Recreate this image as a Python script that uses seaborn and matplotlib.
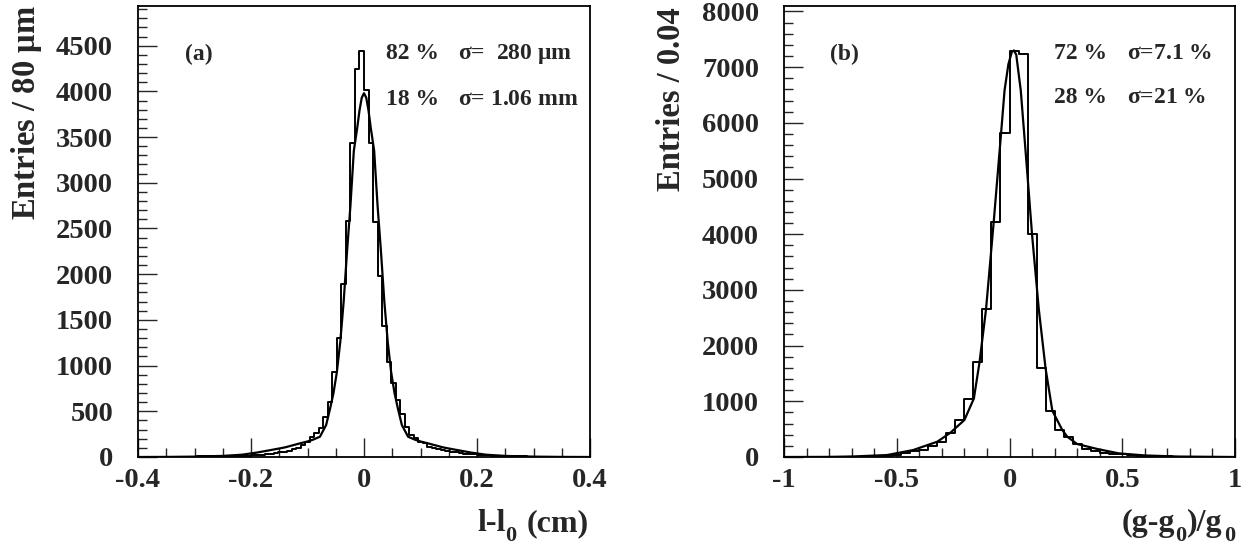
import numpy as np
import matplotlib
matplotlib.use('Agg')
import matplotlib.pyplot as plt
from matplotlib.ticker import MultipleLocator, FuncFormatter
import seaborn as sns

# panel (a): l-l0 histogram, 100 bins of 0.008 cm
counts_a = [0, 0, 0, 0, 0, 2, 2, 3, 3, 4, 4, 5, 5, 6, 6, 7, 8, 9, 9, 10, 10, 12, 12, 14, 15,
            18, 20, 22, 28, 34, 40, 50, 58, 70, 85, 100, 130, 160,
            222, 262, 317, 441, 604, 930, 1304, 1890, 2580, 3430, 4240, 4440,
            4020, 3435, 2570, 1978, 1432, 1035, 812, 623, 470, 331, 240, 207, 167, 153, 110,
            100, 90, 77, 65, 55, 50, 40, 35, 30, 28,
            25, 22, 18, 16, 14, 12, 10, 9, 8, 7, 6, 5, 5, 4, 4, 3, 3, 2, 2, 2, 1, 1, 0, 0, 0]
fit_x_a = [-0.4, -0.35, -0.3, -0.25, -0.216, -0.19, -0.164, -0.14, -0.111, -0.1, -0.09, -0.078,
           -0.067, -0.06, -0.054, -0.048, -0.042, -0.036, -0.03, -0.024, -0.018, -0.012, -0.008, -0.004, 0,
           0.004, 0.008, 0.012, 0.018, 0.024, 0.03, 0.036, 0.042, 0.048, 0.054, 0.06, 0.067,
           0.078, 0.09, 0.1, 0.111, 0.14, 0.164, 0.19, 0.216, 0.25, 0.3, 0.35, 0.4]
fit_y_a = [0, 1, 4, 12, 25, 48, 77, 105, 153, 170, 190, 222,
           350, 530, 700, 930, 1260, 1700, 2250, 2750, 3350, 3600, 3790, 3930, 3980,
           3930, 3790, 3600, 3350, 2750, 2250, 1700, 1260, 930, 700, 530, 350,
           222, 190, 170, 153, 105, 77, 48, 25, 12, 4, 1, 0]

# panel (b): (g-g0)/g0 histogram, 50 bins of 0.04
counts_b = [0, 0, 0, 0, 1, 1, 2, 3, 5, 8, 15, 20,
            35, 63, 105, 125, 197, 275, 436, 664, 1050, 1700, 2655, 4220, 5820,
            7290, 7240, 3995, 1590, 830, 485, 365, 233, 143, 113, 80, 60, 45, 32, 25,
            18, 12, 9, 6, 4, 3, 2, 1, 0, 0]
fit_x_b = [-1, -0.8, -0.69, -0.543, -0.427, -0.32, -0.262, -0.2, -0.158, -0.133, -0.104, -0.07,
           -0.037, -0.022, -0.005, 0.01, 0.02, 0.03, 0.05, 0.075, 0.1, 0.13, 0.16, 0.19,
           0.234, 0.256, 0.3, 0.39, 0.485, 0.6, 0.75, 1]
fit_y_b = [0, 2, 10, 35, 125, 275, 436, 664, 1050, 1700, 2655, 4220,
           5830, 6580, 7050, 7270, 7300, 7220, 6580, 5300, 3995, 2650, 1590, 830,
           485, 365, 233, 143, 65, 28, 8, 0]

sns.set_style('white')
plt.rcParams['font.family'] = ['Liberation Serif']
plt.rcParams['font.weight'] = 'bold'
plt.rcParams['mathtext.fontset'] = 'custom'
plt.rcParams['mathtext.rm'] = 'Liberation Serif'
plt.rcParams['mathtext.bf'] = 'Liberation Serif:bold'


def tick_fmt(v, pos):
    return '%g' % round(v, 3)


def draw_panel(ax, counts, lo, hi, fit_x, fit_y, top, xmaj, xmin, ymaj, ymin):
    edges = np.linspace(lo, hi, len(counts) + 1)
    centers = (edges[:-1] + edges[1:]) / 2
    sns.histplot(x=centers, weights=counts, bins=len(counts), binrange=(lo, hi), element='step',
                 fill=False, color='black', linewidth=1.4, ax=ax)
    sns.lineplot(x=fit_x, y=fit_y, color='black', linewidth=1.6, ax=ax)
    ax.set_xlim(lo, hi)
    ax.set_ylim(0, top)
    ax.xaxis.set_major_locator(MultipleLocator(xmaj))
    ax.xaxis.set_minor_locator(MultipleLocator(xmin))
    ax.yaxis.set_major_locator(MultipleLocator(ymaj))
    ax.yaxis.set_minor_locator(MultipleLocator(ymin))
    ax.xaxis.set_major_formatter(FuncFormatter(tick_fmt))
    ax.tick_params(axis='x', which='major', direction='in', length=13.7, width=1.0,
                   labelsize=20.5, pad=8, bottom=True)
    ax.tick_params(axis='y', which='major', direction='in', length=13.7, width=1.0,
                   labelsize=20.5, pad=18, left=True)
    ax.tick_params(axis='both', which='minor', direction='in', length=6.7, width=1.0,
                   bottom=True, left=True)
    ax.set_xlabel('')
    ax.set_ylabel('')
    for s in ax.spines.values():
        s.set_linewidth(1.3)
        s.set_color('black')


def put(px, py, s, size, **kw):
    # place text by pixel position in the 1248x544 figure
    fig.text(px / 1248, 1 - py / 544, s, fontsize=size, va='baseline', **kw)


fig = plt.figure(figsize=(12.48, 5.44), dpi=100)
ax1 = fig.add_axes([138 / 1248, 1 - 457 / 544, 452 / 1248, 451 / 544])
ax2 = fig.add_axes([784 / 1248, 1 - 457 / 544, 451 / 1248, 451 / 544])

draw_panel(ax1, counts_a, -0.4, 0.4, fit_x_a, fit_y_a, 4934, 0.2, 0.05, 500, 100)
draw_panel(ax2, counts_b, -1, 1, fit_x_b, fit_y_b, 8097, 0.5, 0.1, 1000, 200)

fig.text(27 / 1248, 1 - 220 / 544, r'Entries / 80 $\mathrm{\mu}$m', rotation=90, fontsize=23.5,
         ha='center', va='bottom')
fig.text(671 / 1248, 1 - 191 / 544, 'Entries / 0.04', rotation=90, fontsize=23.5,
         ha='center', va='bottom')

label_size = 23
sub_size = 16
put(477, 531, 'l-l', label_size)
put(505, 541, '0', sub_size)
put(527, 531, '(cm)', label_size)
put(1122, 531, '(g-g', label_size)
put(1175, 541, '0', sub_size)
put(1187, 531, ')/g', label_size)
put(1224, 541, '0', sub_size)

note_size = 17
put(185, 60, '(a)', note_size)
put(386, 59, '82 %', note_size)
put(458, 59, r'$\mathrm{\sigma}$=  280 $\mathrm{\mu}$m', note_size)
put(386, 105, '18 %', note_size)
put(458, 105, r'$\mathrm{\sigma}$= 1.06 mm', note_size)

put(830, 60, '(b)', note_size)
put(1054, 59, '72 %', note_size)
put(1127, 59, r'$\mathrm{\sigma}$=7.1 %', note_size)
put(1054, 103, '28 %', note_size)
put(1127, 103, r'$\mathrm{\sigma}$=21 %', note_size)

fig.savefig('out.png', dpi=100)
